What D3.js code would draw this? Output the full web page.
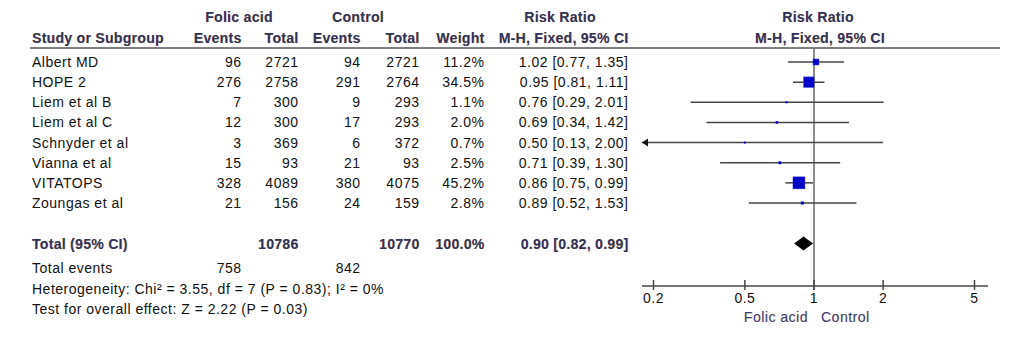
<!DOCTYPE html>
<html>
<head>
<meta charset="utf-8">
<script src="https://cdn.jsdelivr.net/npm/d3@7"></script>
<style>
  body { margin: 0; background: #fff; }
  text { font-family: Arial, "Liberation Sans", sans-serif; font-size: 14px; letter-spacing: 0.5px; fill: #111; }
  .hd { font-weight: bold; letter-spacing: 0.3px; fill: #2e3358; text-shadow: 0.6px 0.4px 0 rgba(225,150,60,0.6); }
  .lab { fill: #3d3d7a; text-shadow: 0.6px 0.4px 0 rgba(225,150,60,0.5); }
</style>
</head>
<body>
<svg id="chart" width="1032" height="346"></svg>
<script>
// study rows
var studies = ["Albert MD", "HOPE 2", "Liem et al B", "Liem et al C", "Schnyder et al", "Vianna et al", "VITATOPS", "Zoungas et al"];
var faEvents = [96, 276, 7, 12, 3, 15, 328, 21];
var faTotal = [2721, 2758, 300, 300, 369, 93, 4089, 156];
var ctEvents = [94, 291, 9, 17, 6, 21, 380, 24];
var ctTotal = [2721, 2764, 293, 293, 372, 93, 4075, 159];
var weight = [11.2, 34.5, 1.1, 2.0, 0.7, 2.5, 45.2, 2.8];
var rr = [1.02, 0.95, 0.76, 0.69, 0.50, 0.71, 0.86, 0.89];
var lo = [0.77, 0.81, 0.29, 0.34, 0.13, 0.39, 0.75, 0.52];
var hi = [1.35, 1.11, 2.01, 1.42, 2.00, 1.30, 0.99, 1.53];

// pooled
var total = { faTotal: 10786, ctTotal: 10770, weight: "100.0%", rr: 0.90, lo: 0.82, hi: 0.99 };
var totalEvents = [758, 842];
var ticks = [0.2, 0.5, 1, 2, 5];

var svg = d3.select("#chart");
var f2 = d3.format(".2f");

var x = d3.scaleLog().domain([0.2, 5]).range([653.5, 974.5]);
var xMin = 642, xMax = 988;
var y = d3.scaleLinear().domain([0, 7]).range([67, 208]);

// column right edges (letter-spacing adds a trailing gap)
var col = { fe: 241.5, ft: 298.5, ce: 360.5, ct: 419.5, w: 484.5, ci: 628.5 };

// headers
var h1 = 22, h2 = 43;
function hd(t, xx, yy, anchor) {
  svg.append("text").attr("class", "hd").attr("x", xx).attr("y", yy)
    .attr("text-anchor", anchor).text(t);
}
hd("Folic acid", 239, h1, "middle");
hd("Control", 358, h1, "middle");
hd("Risk Ratio", 560, h1, "middle");
hd("Risk Ratio", 818, h1, "middle");
hd("Study or Subgroup", 32, h2, "start");
hd("Events", col.fe, h2, "end");
hd("Total", col.ft, h2, "end");
hd("Events", col.ce, h2, "end");
hd("Total", col.ct, h2, "end");
hd("Weight", col.w, h2, "end");
hd("M-H, Fixed, 95% CI", col.ci, h2, "end");
hd("M-H, Fixed, 95% CI", 820, h2, "middle");

svg.append("line").attr("x1", 30).attr("x2", 1000).attr("y1", 48).attr("y2", 48)
  .attr("stroke", "#555").attr("stroke-width", 1.5);

// table rows
var rows = svg.append("g");
studies.forEach(function(s, i) {
  var yy = y(i);
  rows.append("text").attr("x", 32).attr("y", yy).text(s);
  [[faEvents[i], col.fe], [faTotal[i], col.ft], [ctEvents[i], col.ce], [ctTotal[i], col.ct],
   [weight[i].toFixed(1) + "%", col.w],
   [f2(rr[i]) + " [" + f2(lo[i]) + ", " + f2(hi[i]) + "]", col.ci]].forEach(function(c) {
    rows.append("text").attr("x", c[1]).attr("y", yy).attr("text-anchor", "end").text(c[0]);
  });
});

// vertical line of no effect
svg.append("line").attr("x1", x(1)).attr("x2", x(1)).attr("y1", 48).attr("y2", 290)
  .attr("stroke", "#666").attr("stroke-width", 1.5);

// CI lines
var plot = svg.append("g");
studies.forEach(function(s, i) {
  var yc = y(i) - 5;
  var x1 = Math.max(x(lo[i]), xMin), x2 = Math.min(x(hi[i]), xMax);
  plot.append("line").attr("x1", x1).attr("x2", x2).attr("y1", yc).attr("y2", yc)
    .attr("stroke", "#444").attr("stroke-width", 1.5);
  if (x(lo[i]) < xMin) {
    plot.append("path")
      .attr("d", "M" + xMin + "," + yc + "l6,-4l0,8z").attr("fill", "#111");
  }
  var side = Math.max(2, 1.78 * Math.sqrt(weight[i]));
  plot.append("rect").attr("x", x(rr[i]) - side / 2).attr("y", yc - side / 2)
    .attr("width", side).attr("height", side)
    .attr("fill", "#0000c8").attr("stroke", side > 4 ? "#3333dd" : "none").attr("stroke-width", 0.5);
});

// total row
var ty = 249;
svg.append("text").attr("class", "hd").attr("x", 32).attr("y", ty).text("Total (95% CI)");
[[total.faTotal, col.ft], [total.ctTotal, col.ct], [total.weight, col.w],
 [f2(total.rr) + " [" + f2(total.lo) + ", " + f2(total.hi) + "]", col.ci]].forEach(function(c) {
  svg.append("text").attr("class", "hd").attr("x", c[1]).attr("y", ty).attr("text-anchor", "end").text(c[0]);
});
var dy = ty - 5.5;
svg.append("path")
  .attr("d", "M" + x(total.lo) + "," + dy + "L" + x(total.rr) + "," + (dy - 7) +
    "L" + x(total.hi) + "," + dy + "L" + x(total.rr) + "," + (dy + 7) + "Z")
  .attr("fill", "#000");

svg.append("text").attr("x", 32).attr("y", 273).text("Total events");
svg.append("text").attr("x", col.fe).attr("y", 273).attr("text-anchor", "end").text(totalEvents[0]);
svg.append("text").attr("x", col.ce).attr("y", 273).attr("text-anchor", "end").text(totalEvents[1]);
svg.append("text").attr("x", 32).attr("y", 294)
  .text("Heterogeneity: Chi\u00b2 = 3.55, df = 7 (P = 0.83); I\u00b2 = 0%");
svg.append("text").attr("x", 32).attr("y", 314)
  .text("Test for overall effect: Z = 2.22 (P = 0.03)");

// axis
var ay = 286;
svg.append("line").attr("x1", xMin).attr("x2", xMax).attr("y1", ay).attr("y2", ay)
  .attr("stroke", "#444").attr("stroke-width", 1.5);
var axis = svg.append("g").selectAll("g").data(ticks).enter().append("g");
axis.append("line").attr("x1", function(d) { return x(d); }).attr("x2", function(d) { return x(d); })
  .attr("y1", ay - 6).attr("y2", ay + 4).attr("stroke", "#444").attr("stroke-width", 1.5);
axis.append("text").attr("x", function(d) { return x(d); }).attr("y", 303)
  .attr("text-anchor", "middle").text(function(d) { return d; });

svg.append("text").attr("class", "lab").attr("x", x(1) - 6).attr("y", 322)
  .attr("text-anchor", "end").text("Folic acid");
svg.append("text").attr("class", "lab").attr("x", x(1) + 7).attr("y", 322)
  .text("Control");
</script>
</body>
</html>
